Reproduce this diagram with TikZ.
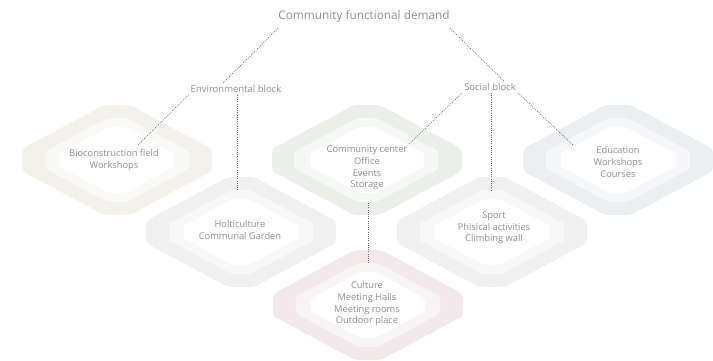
\documentclass[tikz,border=0pt]{standalone}
\usepackage{fontspec}
\setmainfont{Open Sans}
\usepackage{xcolor}
\usepackage{tikz}

\definecolor{txtgrey}{HTML}{8E8E8E}
\definecolor{linegrey}{HTML}{6A6A6A}
\definecolor{biofill}{HTML}{F3F2EA}
\definecolor{commfill}{HTML}{EAF0E8}
\definecolor{edufill}{HTML}{EBEFF2}
\definecolor{holtfill}{HTML}{F0F0F0}
\definecolor{sportfill}{HTML}{F0F0F0}
\definecolor{cultfill}{HTML}{F3E9EB}

\tikzset{
	demandlabel/.style={text=txtgrey, inner sep=2pt, font=\fontsize{11.8}{14}\selectfont},
	blocklabel/.style={text=txtgrey, inner sep=2pt, font=\fontsize{9.5}{10}\selectfont},
	fieldtext/.style={text=txtgrey, inner sep=2pt, align=center, font=\fontsize{9.3}{11.7}\selectfont},
	link/.style={draw=linegrey, line width=0.8pt, dash pattern=on 0.8pt off 1.4pt},
}

% octagonal field outline around the origin
\newcommand{\fieldpath}{(-95,-11) -- (-95,11) -- (-13,55) -- (13,55) -- (95,11) -- (95,-11) -- (13,-55) -- (-13,-55) -- cycle}

\begin{document}
\begin{tikzpicture}[x=1pt,y=-1pt]
	\useasboundingbox (0,0) rectangle (713,361);
	
	% fields
	\foreach \cx/\cy/\col in {117/160/biofill, 367/160/commfill, 618/160/edufill,
		241/232/holtfill, 492/232/sportfill, 368/305/cultfill}
	{
		\fill[\col, rounded corners=4pt, shift={(\cx,\cy)}] \fieldpath;
		\fill[\col!50!white, rounded corners=3pt, shift={(\cx,\cy)}, scale=0.76] \fieldpath;
		\fill[white, rounded corners=2pt, shift={(\cx,\cy)}, scale=0.6] \fieldpath;
	}
	
	% labels
	\node[demandlabel] (demand) at (364,16) {Community functional demand};
	\node[blocklabel] (env) at (236,89) {Environmental block};
	\node[blocklabel] (soc) at (490,87) {Social block};
	
	\node[fieldtext] (bio) at (114,160) {Bioconstruction field\\Workshops};
	\node[fieldtext] (comm) at (367,168) {Community center\\Office\\Events\\Storage};
	\node[fieldtext] (edu) at (618,162) {Education\\Workshops\\Courses};
	\node[fieldtext] (holt) at (240,230) {Holticulture\\Communal Garden};
	\node[fieldtext] (sport) at (494,228) {Sport\\Phisical activities\\Climbing wall};
	\node[fieldtext] (cult) at (367,304) {Culture\\Meeting Halls\\Meeting rooms\\Outdoor place};
	
	% free ends inside the fields
	\coordinate (bioend) at (137,146);
	\coordinate (holtend) at (237,191);
	\coordinate (sportend) at (491,190);
	\coordinate (eduend) at (573,145);
	\coordinate (commend) at (368,203);
	\coordinate (cultend) at (368,264);
	
	% connectors
	\draw[link] ([xshift=2pt,yshift=-4pt]demand.south west) -- ([xshift=-13pt]env.north);
	\draw[link] ([xshift=-2pt,yshift=-4pt]demand.south east) -- ([xshift=14pt]soc.north);
	\draw[link] (env.south west) -- (bioend);
	\draw[link] ([xshift=1pt]env.south) -- (holtend);
	\draw[link] (soc.south west) -- (comm.north east);
	\draw[link] ([xshift=1pt]soc.south) -- (sportend);
	\draw[link] (soc.south east) -- (eduend);
	\draw[link] (commend) -- (cultend);
\end{tikzpicture}
\end{document}
